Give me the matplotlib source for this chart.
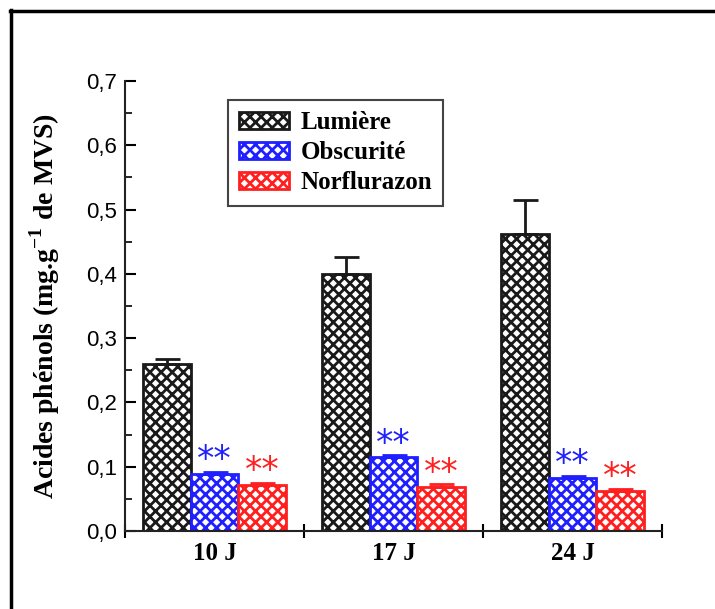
import matplotlib
matplotlib.use("Agg")
import matplotlib.pyplot as plt
import numpy as np
from matplotlib.lines import Line2D
from matplotlib.ticker import FuncFormatter, MultipleLocator

# Data: phenolic acids content per treatment and sampling day
days = ["10 J", "17 J", "24 J"]
treatments = ["Lumière", "Obscurité", "Norflurazon"]
lumiere = [0.26, 0.40, 0.462]
obscurite = [0.089, 0.115, 0.083]
norflurazon = [0.072, 0.069, 0.063]
err_lumiere = [0.007, 0.027, 0.053]
err_obscurite = [0.003, 0.003, 0.003]
err_norflurazon = [0.003, 0.004, 0.003]
signif = ["", "**", "**"]

colors = ["#1a1a1a", "#1f1fff", "#ff1f1f"]

plt.rcParams["hatch.linewidth"] = 2.0
plt.rcParams["mathtext.fontset"] = "custom"
plt.rcParams["mathtext.rm"] = "Liberation Serif:bold"
plt.rcParams["mathtext.bf"] = "Liberation Serif:bold"

fig = plt.figure(figsize=(7.15, 6.09), dpi=100)
ax = fig.add_axes([0.175, 0.128, 0.751, 0.739])

x = np.arange(len(days))
width = 0.265
series = [lumiere, obscurite, norflurazon]
errors = [err_lumiere, err_obscurite, err_norflurazon]

for i, (vals, errs, col) in enumerate(zip(series, errors, colors)):
    pos = x + (i - 1) * width
    ax.bar(pos, vals, width, color="white", edgecolor=col, hatch="xxx",
           linewidth=2, label=treatments[i], zorder=2)
    ax.errorbar(pos, vals, yerr=[np.zeros(len(vals)), errs], fmt="none",
                ecolor=col, elinewidth=2, capsize=9, capthick=2, zorder=3)
    if signif[i]:
        for p, v, e in zip(pos, vals, errs):
            ax.annotate(signif[i], (p, v + e), xytext=(0, -4),
                        textcoords="offset points", ha="center", va="bottom",
                        color=col, fontsize=25, family="DejaVu Sans")

ax.set_xlim(-0.5, 2.5)
ax.set_ylim(0, 0.7)

for s in ["top", "right"]:
    ax.spines[s].set_visible(False)
for s in ["left", "bottom"]:
    ax.spines[s].set_linewidth(1.5)
    ax.spines[s].set_color("#222222")

ax.yaxis.set_major_locator(MultipleLocator(0.1))
ax.yaxis.set_minor_locator(MultipleLocator(0.05))
ax.yaxis.set_major_formatter(FuncFormatter(lambda v, p: f"{v:.1f}".replace(".", ",")))
ax.tick_params(axis="y", which="major", direction="in", length=8, width=1.5,
               labelsize=16, pad=6)
ax.tick_params(axis="y", which="minor", direction="in", length=5, width=1.2)
for lab in ax.get_yticklabels():
    lab.set_family("Liberation Sans")

ax.set_xticks([-0.5, 0.5, 1.5, 2.5])
ax.set_xticklabels([])
ax.tick_params(axis="x", which="major", direction="inout", length=10, width=1.5)
ax.set_xticks(x, minor=True)
ax.set_xticklabels(days, minor=True, family="Liberation Serif",
                   fontweight="bold", fontsize=18)
ax.tick_params(axis="x", which="minor", length=0, pad=8)

ax.set_ylabel(r"Acides phénols (mg.g$^{-1}$ de MVS)", family="Liberation Serif",
              fontweight="bold", fontsize=20, labelpad=17)

leg = ax.legend(loc="upper left", bbox_to_anchor=(228 / 715, 1 - 100 / 609),
                bbox_transform=fig.transFigure, prop={"family": "Liberation Serif",
                "weight": "bold", "size": 18}, handlelength=2.0, handleheight=0.7,
                labelspacing=0.28, borderpad=0.45, handletextpad=0.45,
                borderaxespad=0, fancybox=False, framealpha=1)
leg.get_frame().set_edgecolor("#444444")
leg.get_frame().set_linewidth(1.5)

# Outer frame lines
fig.add_artist(Line2D([10 / 715, 1.0], [1 - 11 / 609, 1 - 11 / 609],
                      transform=fig.transFigure, color="black", linewidth=2.5))
fig.add_artist(Line2D([11 / 715, 11 / 715], [0.0, 1 - 10 / 609],
                      transform=fig.transFigure, color="black", linewidth=2.5))

fig.savefig("out.png", dpi=100)
